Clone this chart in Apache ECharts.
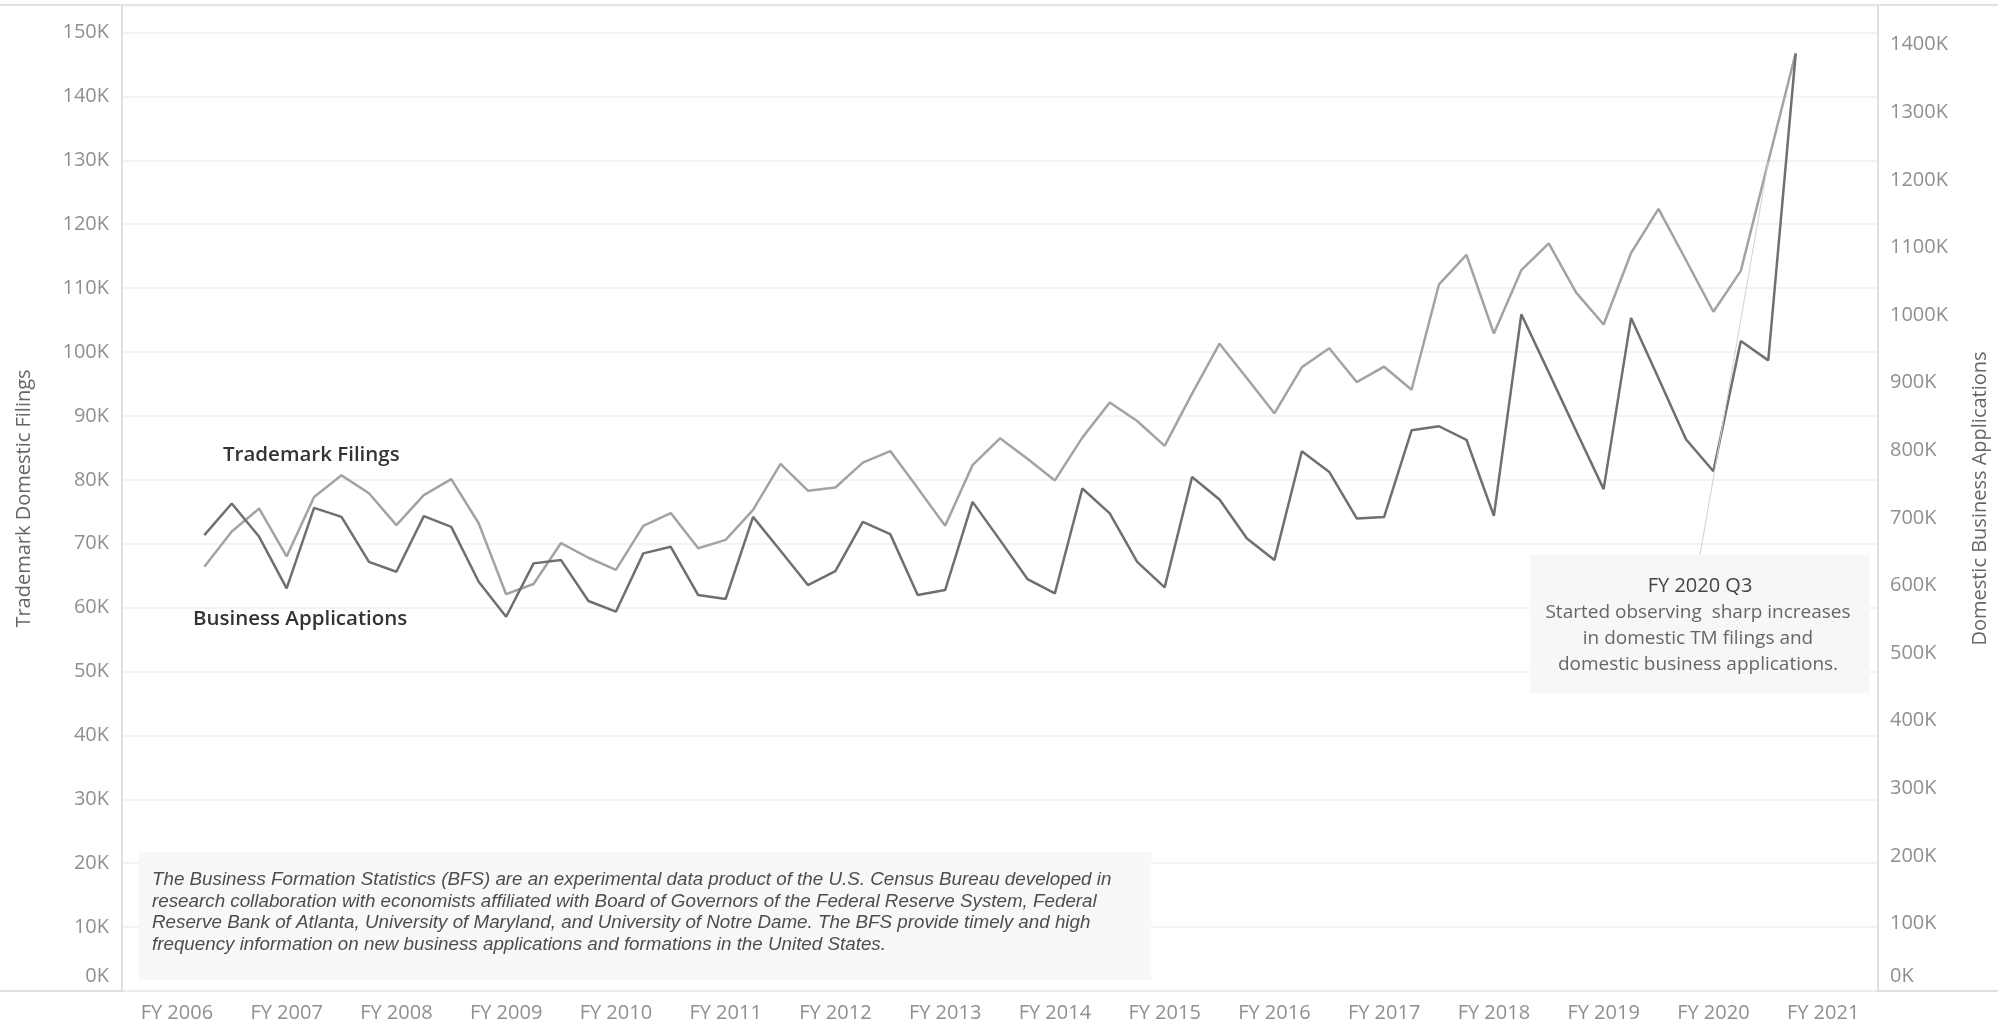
<!DOCTYPE html>
<html>
<head>
<meta charset="utf-8">
<title>Domestic Trademark Filings vs Business Applications</title>
<script src="https://cdn.jsdelivr.net/npm/echarts@6/dist/echarts.min.js"></script>
<style>
  html, body { margin: 0; padding: 0; background: #fff; }
  #chart { width: 1998px; height: 1024px; }
</style>
</head>
<body>
<div id="chart"></div>
<script>
// year labels on the x axis (one per fiscal year, placed at Q1)
const fiscalYears = ['FY 2006', 'FY 2007', 'FY 2008', 'FY 2009', 'FY 2010', 'FY 2011', 'FY 2012', 'FY 2013',
  'FY 2014', 'FY 2015', 'FY 2016', 'FY 2017', 'FY 2018', 'FY 2019', 'FY 2020', 'FY 2021'];

// quarters with data: FY 2006 Q2 ... FY 2020 Q4
const quarters = [];
for (let y = 2006; y <= 2020; y++) {
  for (let q = 1; q <= 4; q++) {
    if (y === 2006 && q === 1) continue;
    quarters.push('FY ' + y + ' Q' + q);
  }
}

// trademark domestic filings (left axis)
const tmFilings = [66400, 71900, 75500, 68000, 77300, 80700, 77900, 72900, 77600, 80100,
  73200, 62100, 63700, 70100, 67800, 65900, 72800, 74800, 69300, 70600,
  75300, 82500, 78300, 78800, 82700, 84500, 78700, 72800, 82300, 86500,
  83300, 79900, 86600, 92100, 89200, 85300, 93500, 101300, 95900, 90400,
  97600, 100600, 95300, 97700, 94100, 110600, 115200, 102900, 112800, 117000,
  109300, 104300, 115500, 122400, 114400, 106300, 112700, 129800, 146800];

// domestic business applications (right axis)
const bizApps = [674500, 721300, 672000, 595700, 714800, 701500, 635000, 620300, 702600, 686800,
  605500, 553800, 632700, 637600, 577000, 561200, 647500, 657200, 585800, 580000,
  701500, 651300, 600600, 621300, 694100, 676000, 585800, 593200, 723700, 667100,
  609500, 588400, 743500, 706600, 635000, 597200, 760600, 727200, 669600, 637600,
  798600, 768000, 699200, 701500, 829600, 835600, 815600, 703000, 1001200, 915300,
  828600, 742600, 995900, 906500, 816300, 769100, 961600, 933100, 1386400];

const noteLines = [
  'The Business Formation Statistics (BFS) are an experimental data product of the U.S. Census Bureau developed in',
  'research collaboration with economists affiliated with Board of Governors of the Federal Reserve System, Federal',
  'Reserve Bank of Atlanta, University of Maryland, and University of Notre Dame. The BFS provide timely and high',
  'frequency information on new business applications and formations in the United States.'
];
const calloutTitle = 'FY 2020 Q3';
const calloutLines = ['Started observing  sharp increases', 'in domestic TM filings and', 'domestic business applications.'];

// quarters counted from FY 2006 Q1
function quarterPos(label) {
  const yr = parseInt(label.slice(3, 7));
  const q = parseInt(label.slice(9));
  return (yr - 2006) * 4 + q - 1;
}
const tmData = quarters.map((lab, i) => [quarterPos(lab), tmFilings[i]]);
const baData = quarters.map((lab, i) => [quarterPos(lab), bizApps[i]]);
const calloutIdx = quarters.indexOf(calloutTitle);

const FONT = '"Open Sans", sans-serif';
const kFmt = function (v) {
  if (v === 0) return '{z|0K}';
  return Math.round(v / 1000) + 'K';
};
const tickStyle = { fontSize: 20, color: '#8f8f8f', fontFamily: FONT };

const chart = echarts.init(document.getElementById('chart'));
const option = {
  animation: false,
  backgroundColor: '#ffffff',
  grid: { left: 122, right: 116, top: 6, bottom: 33 },
  xAxis: {
    type: 'value',
    min: -2,
    max: 62,
    interval: 2,
    axisLine: { show: false },
    axisTick: { show: false },
    splitLine: { show: false },
    axisLabel: {
      customValues: fiscalYears.map((f, i) => i * 4),
      formatter: v => fiscalYears[v / 4],
      margin: 12,
      fontSize: 20,
      color: '#8f8f8f',
      fontFamily: FONT
    }
  },
  yAxis: [
    {
      type: 'value',
      min: 0,
      max: 154150,
      interval: 10000,
      position: 'left',
      name: 'Trademark Domestic Filings',
      nameLocation: 'middle',
      nameRotate: 90,
      nameGap: 88,
      nameTextStyle: { fontSize: 20, color: '#666', fontFamily: FONT },
      axisLine: { show: true, onZero: false, lineStyle: { color: '#d4d4d4', width: 1.5 } },
      axisTick: { show: false },
      splitLine: { lineStyle: { color: '#efefef', width: 1.5 } },
      axisLabel: Object.assign({
        formatter: kFmt, margin: 13, showMaxLabel: false,
        rich: { z: Object.assign({ padding: [0, 0, 30, 0] }, tickStyle) }
      }, tickStyle)
    },
    {
      type: 'value',
      min: 0,
      max: 1457400,
      interval: 100000,
      position: 'right',
      name: 'Domestic Business Applications',
      nameLocation: 'middle',
      nameRotate: 90,
      nameGap: 92,
      nameTextStyle: { fontSize: 20, color: '#666', fontFamily: FONT },
      axisLine: { show: true, onZero: false, lineStyle: { color: '#d4d4d4', width: 1.5 } },
      axisTick: { show: false },
      splitLine: { show: false },
      axisLabel: Object.assign({
        formatter: kFmt, margin: 12, showMaxLabel: false,
        rich: { z: Object.assign({ padding: [0, 0, 30, 0] }, tickStyle) }
      }, tickStyle)
    }
  ],
  series: [
    {
      name: 'Trademark Filings',
      type: 'line',
      yAxisIndex: 0,
      data: tmData,
      symbol: 'none',
      lineStyle: { color: '#a3a3a3', width: 2.5 },
      z: 3,
      markLine: {
        silent: true,
        symbol: 'none',
        label: { show: false },
        lineStyle: { color: '#d2d2d2', width: 1, type: 'solid' },
        data: [[{ x: 1700, y: 555 }, { coord: tmData[calloutIdx] }]]
      }
    },
    {
      name: 'Business Applications',
      type: 'line',
      yAxisIndex: 1,
      data: baData,
      symbol: 'none',
      lineStyle: { color: '#6f6f6f', width: 2.5 },
      z: 4
    }
  ],
  graphic: [
    // frame lines
    { type: 'line', shape: { x1: 0, y1: 5, x2: 1998, y2: 5 }, style: { stroke: '#d8d8d8', lineWidth: 1.5 }, silent: true },
    { type: 'line', shape: { x1: 0, y1: 991, x2: 1998, y2: 991 }, style: { stroke: '#d4d4d4', lineWidth: 1.5 }, silent: true },
    // series labels
    { type: 'text', x: 223, y: 455, style: { text: 'Trademark Filings', font: '600 20.5px ' + FONT, fill: '#333', verticalAlign: 'middle' } },
    { type: 'text', x: 193, y: 619, style: { text: 'Business Applications', font: '600 20.5px ' + FONT, fill: '#333', verticalAlign: 'middle' } },
    // source note
    { type: 'rect', shape: { x: 138, y: 852, width: 1013, height: 128 }, style: { fill: '#f8f8f8' }, z: 5 },
    { type: 'text', x: 152, y: 869, z: 6,
      style: { text: noteLines.join('\n'), font: 'italic 18.8px "Liberation Sans", Arial, sans-serif', fill: '#4d4d4d', lineHeight: 21.7, verticalAlign: 'top' } },
    // callout
    { type: 'rect', shape: { x: 1530, y: 555, width: 339, height: 138 }, style: { fill: '#f7f7f7' }, z: 5 },
    { type: 'text', x: 1700, y: 586, z: 6,
      style: { text: calloutTitle, font: '20px ' + FONT, fill: '#444', align: 'center', verticalAlign: 'middle' } },
    { type: 'text', x: 1698, y: 600, z: 6,
      style: { text: calloutLines.join('\n'), font: '19px ' + FONT, fill: '#666', align: 'center', verticalAlign: 'top', lineHeight: 26 } }
  ]
};
chart.setOption(option);
</script>
</body>
</html>
